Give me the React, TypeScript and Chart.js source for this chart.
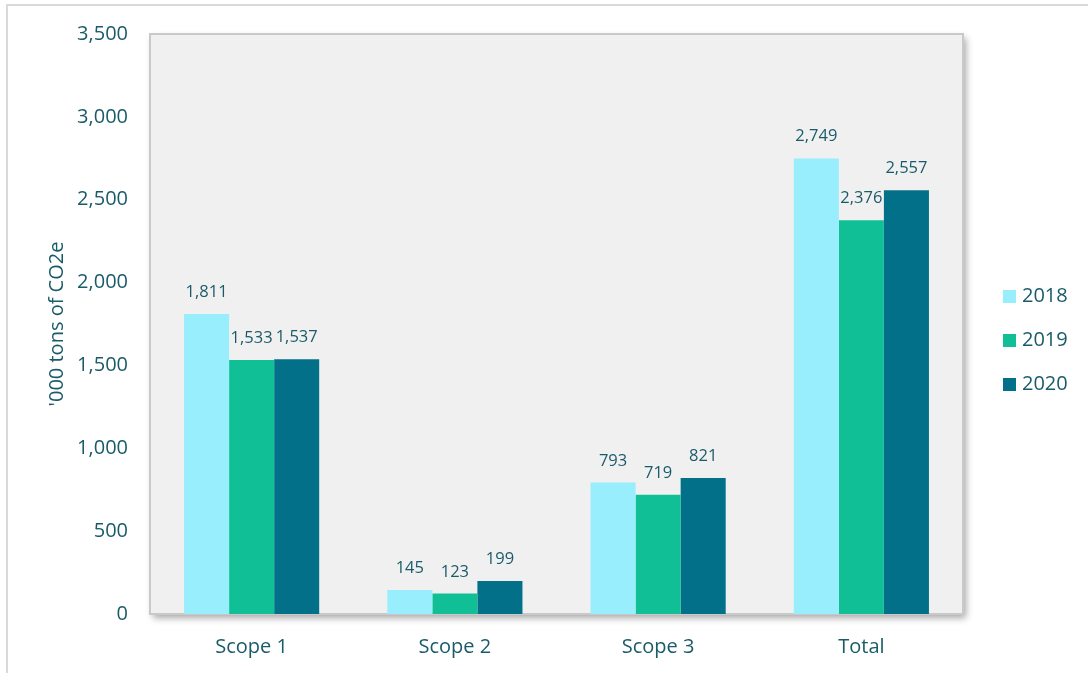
import React, { useEffect, useRef } from "react";
import { Chart, registerables } from "chart.js";

Chart.register(...registerables);

const categories = ["Scope 1", "Scope 2", "Scope 3", "Total"];
const seriesNames = ["2018", "2019", "2020"];
const values2018 = [1811, 145, 793, 2749];
const values2019 = [1533, 123, 719, 2376];
const values2020 = [1537, 199, 821, 2557];
const seriesColors = ["#99EEFD", "#10BF95", "#037089"];
const yTitle = "'000 tons of CO2e";

const TEXT = "#1a5b6a";
const FONT = "'Open Sans', 'Noto Sans', sans-serif";

const decorPlugin = {
  id: "decor",
  beforeDraw(chart: any) {
    const { ctx, chartArea, width, height } = chart;
    ctx.save();
    ctx.strokeStyle = "#dadada";
    ctx.lineWidth = 2;
    ctx.beginPath();
    ctx.moveTo(7, height);
    ctx.lineTo(7, 5);
    ctx.lineTo(width, 5);
    ctx.stroke();
    const { left, top, right, bottom } = chartArea;
    ctx.shadowColor = "rgba(0,0,0,0.35)";
    ctx.shadowBlur = 7;
    ctx.shadowOffsetX = 3;
    ctx.shadowOffsetY = 4;
    ctx.fillStyle = "#f0f0f0";
    ctx.fillRect(left, top, right - left, bottom - top);
    ctx.shadowColor = "transparent";
    ctx.shadowBlur = 0;
    ctx.shadowOffsetX = 0;
    ctx.shadowOffsetY = 0;
    ctx.strokeStyle = "#c9c9c9";
    ctx.lineWidth = 2;
    ctx.strokeRect(left, top, right - left, bottom - top);
    ctx.restore();
  },
  afterDraw(chart: any) {
    const { ctx, chartArea } = chart;
    ctx.save();
    ctx.fillStyle = TEXT;
    ctx.font = `20px ${FONT}`;
    ctx.textAlign = "center";
    ctx.textBaseline = "middle";
    ctx.translate(57, (chartArea.top + chartArea.bottom) / 2);
    ctx.rotate(-Math.PI / 2);
    ctx.fillText(yTitle, 0, 0);
    ctx.restore();
    ctx.save();
    ctx.font = `20px ${FONT}`;
    ctx.textBaseline = "middle";
    ctx.textAlign = "left";
    chart.data.datasets.forEach((ds: any, i: number) => {
      const cy = 296 + i * 44;
      ctx.fillStyle = ds.backgroundColor;
      ctx.fillRect(1003, cy - 6, 13, 13);
      ctx.fillStyle = TEXT;
      ctx.fillText(ds.label, 1022, cy);
    });
    ctx.restore();
  },
  afterDatasetsDraw(chart: any) {
    const { ctx } = chart;
    ctx.save();
    ctx.font = `16.5px ${FONT}`;
    ctx.fillStyle = TEXT;
    ctx.textAlign = "center";
    ctx.textBaseline = "alphabetic";
    chart.data.datasets.forEach((ds: any, i: number) => {
      const meta = chart.getDatasetMeta(i);
      meta.data.forEach((el: any, j: number) => {
        const v = ds.data[j];
        ctx.fillText(v.toLocaleString("en-US"), el.x, el.y - 17);
      });
    });
    ctx.restore();
  },
};

export default function App() {
  const ref = useRef<HTMLCanvasElement | null>(null);
  useEffect(() => {
    if (!ref.current) return;
    const series = [values2018, values2019, values2020];
    const chart = new Chart(ref.current, {
      type: "bar",
      data: {
        labels: categories,
        datasets: series.map((d, i) => ({
          label: seriesNames[i],
          data: d,
          backgroundColor: seriesColors[i],
          borderWidth: 0,
          categoryPercentage: 0.665,
          barPercentage: 1,
        })),
      },
      options: {
        responsive: false,
        animation: false,
        layout: { padding: { top: 34, right: 125, left: 0, bottom: 0 } },
        plugins: {
          legend: { display: false },
          tooltip: { enabled: false },
          title: { display: false },
        },
        scales: {
          x: {
            grid: { display: false, drawTicks: false },
            border: { display: false },
            ticks: { color: TEXT, font: { family: FONT, size: 20 }, padding: 21 },
            afterFit: (s: any) => {
              s.height = 59;
            },
          },
          y: {
            min: 0,
            max: 3500,
            grid: { display: false, drawTicks: false },
            border: { display: false },
            ticks: {
              stepSize: 500,
              color: TEXT,
              font: { family: FONT, size: 20 },
              padding: 22,
              callback: (v: any) => Number(v).toLocaleString("en-US"),
            },
            afterFit: (s: any) => {
              s.width = 150;
            },
          },
        },
      },
      plugins: [decorPlugin],
    });
    return () => chart.destroy();
  }, []);
  return (
    <div style={{ position: "fixed", left: 0, top: 0, width: 1088, height: 673, background: "#fff" }}>
      <canvas ref={ref} width={1088} height={673} style={{ display: "block" }} />
    </div>
  );
}
